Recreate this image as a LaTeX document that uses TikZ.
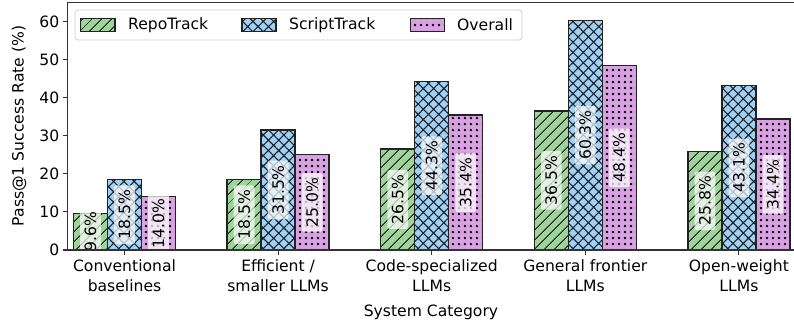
\documentclass[tikz,border=0pt]{standalone}
\usepackage{fontspec}
\setmainfont{DejaVu Sans}
\usetikzlibrary{patterns.meta}
\definecolor{gfill}{HTML}{9CD49A}
\definecolor{bfill}{HTML}{9FD2F9}
\definecolor{pfill}{HTML}{D8A2E2}
\definecolor{spinec}{HTML}{333333}
\definecolor{edgec}{HTML}{222222}
\definecolor{legedge}{HTML}{CCCCCC}
\newcommand{\fnt}{\fontsize{15.6}{20}\selectfont}
\tikzset{
  baredge/.style={draw=edgec, line width=1.3pt},
  gpat/.style={pattern={Lines[angle=45,distance=6.9pt,line width=1.1pt]}, pattern color=edgec},
  bpat/.style={pattern={Hatch[angle=45,distance=7.3pt,line width=1.1pt]}, pattern color=edgec},
  ppat/.style={pattern={Dots[distance=6.4pt,radius=1.45pt]}, pattern color=black},
  vallabel/.style={rotate=90, fill=white, fill opacity=0.7, text opacity=1, rounded corners=2pt, inner xsep=4.5pt, inner ysep=4.5pt, font=\fnt},
  ticklab/.style={font=\fnt, inner sep=0pt},
  spine/.style={draw=spinec, line width=1.1pt},
  tickmark/.style={draw=spinec, line width=1.1pt},
}
% \onebar{x-left}{value}{fill}{pattern style}
\newcommand{\onebar}[4]{%
  \path[fill=#3] (#1,250) rectangle ({#1+34},{250-#2*3.81});
  \path[#4] (#1,250) rectangle ({#1+34},{250-#2*3.81});
  \path[baredge] (#1,250) rectangle ({#1+34},{250-#2*3.81});
}
\begin{document}
\begin{tikzpicture}[x=1pt,y=-1pt]
\useasboundingbox (0,0) rectangle (794,326);
% y ticks
\foreach \k in {0,1,...,6}{
  \pgfmathsetmacro\yy{250-38.1*\k}
  \draw[tickmark] (62.5,\yy) -- (67.5,\yy);
  \pgfmathtruncatemacro\lab{10*\k}
  \node[ticklab, anchor=east] (ytick\k) at (59.5,\yy) {\lab};
}
% bars
\foreach \i/\a/\b/\c in {0/9.6/18.5/14.0, 1/18.5/31.5/25.0, 2/26.5/44.3/35.4, 3/36.5/60.3/48.4, 4/25.8/43.1/34.4}{
  \pgfmathsetmacro\cx{124.5+153.6*\i}
  \pgfmathsetmacro\xa{\cx-51}
  \pgfmathsetmacro\xb{\cx-17}
  \pgfmathsetmacro\xc{\cx+17}
  \onebar{\xa}{\a}{gfill}{gpat}
  \onebar{\xb}{\b}{bfill}{bpat}
  \onebar{\xc}{\c}{pfill}{ppat}
  \draw[tickmark] (\cx,250) -- (\cx,255);
}
% value labels
\foreach \i/\a/\b/\c in {0/9.6/18.5/14.0, 1/18.5/31.5/25.0, 2/26.5/44.3/35.4, 3/36.5/60.3/48.4, 4/25.8/43.1/34.4}{
  \pgfmathsetmacro\cx{124.5+153.6*\i}
  \node[vallabel] (la\i) at (\cx-34,{250-\a*3.81/2}) {\a\%};
  \node[vallabel] (lb\i) at (\cx,{250-\b*3.81/2}) {\b\%};
  \node[vallabel] (lc\i) at (\cx+34,{250-\c*3.81/2}) {\c\%};
}
% spines
\draw[spine] (67.5,2.5) -- (67.5,250) -- (794,250);
\draw[spine] (67.5,2.5) -- (794,2.5);
% x tick labels
\node[ticklab, align=center, anchor=north] (x0) at (124.5,259) {Conventional\\baselines};
\node[ticklab, align=center, anchor=north] (x1) at (278.1,259) {Efficient /\\smaller LLMs};
\node[ticklab, align=center, anchor=north] (x2) at (431.7,259) {Code-specialized\\LLMs};
\node[ticklab, align=center, anchor=north] (x3) at (585.3,259) {General frontier\\LLMs};
\node[ticklab, align=center, anchor=north] (x4) at (738.9,259) {Open-weight\\LLMs};
% axis labels
\node[ticklab] (xlabel) at (431,312) {System Category};
\node[ticklab, rotate=90] (ylabel) at (19,126) {Pass@1 Success Rate (\%)};
% legend
\path[draw=legedge, fill=white, fill opacity=0.8, rounded corners=3pt, line width=0.8pt] (75,10) rectangle (522,40);
\path[fill=gfill] (80.5,18.5) rectangle (115,31.5);
\path[gpat] (80.5,18.5) rectangle (115,31.5);
\path[baredge] (80.5,18.5) rectangle (115,31.5);
\node[ticklab, anchor=west] (leg1) at (128,25) {RepoTrack};
\path[fill=bfill] (242,18.5) rectangle (276,31.5);
\path[bpat] (242,18.5) rectangle (276,31.5);
\path[baredge] (242,18.5) rectangle (276,31.5);
\node[ticklab, anchor=west] (leg2) at (289,25) {ScriptTrack};
\path[fill=pfill] (410.5,18.5) rectangle (444.5,31.5);
\path[ppat] (410.5,18.5) rectangle (444.5,31.5);
\path[baredge] (410.5,18.5) rectangle (444.5,31.5);
\node[ticklab, anchor=west] (leg3) at (457,25) {Overall};
\end{tikzpicture}
\end{document}
